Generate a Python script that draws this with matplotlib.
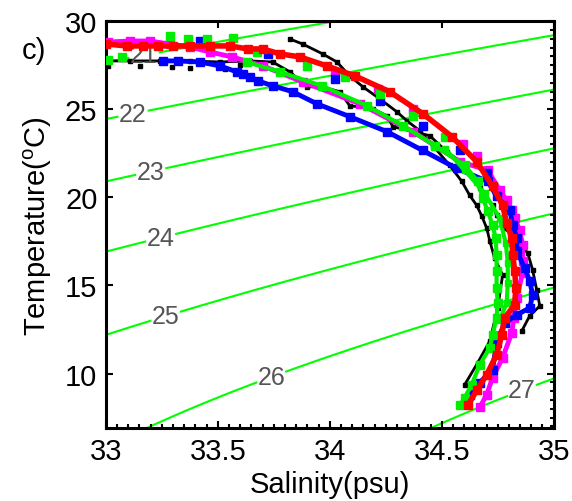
import numpy as np
import matplotlib.pyplot as plt
from matplotlib.ticker import MultipleLocator

plt.rcParams['font.family'] = ['Liberation Sans', 'DejaVu Sans']
plt.rcParams['mathtext.fontset'] = 'custom'
plt.rcParams['mathtext.rm'] = 'Liberation Sans'

# isopycnal levels (sigma-t) and where their labels sit
sigma_levels = [21, 22, 23, 24, 25, 26, 27]
label_pos = [(33.17, 28.1), (33.12, 24.85), (33.2, 21.5), (33.24, 17.95),
             (33.27, 13.15), (33.74, 9.75), (34.86, 9.0)]

# CTD casts: salinity (psu) and temperature (degC)
green_s = [33.629, 33.777, 33.964, 34.166, 34.326, 34.469, 34.603, 34.661,
           34.683, 34.706, 34.727, 34.741, 34.745, 34.745, 34.745, 34.750,
           34.745, 34.727, 34.715, 34.670, 34.634, 34.603, 34.581]
green_t = [27.68, 27.12, 26.33, 25.20, 24.07, 22.94, 21.81, 20.90,
           19.94, 19.21, 18.42, 17.68, 16.72, 15.82, 14.86, 14.01,
           13.16, 12.20, 11.47, 10.51, 9.38, 8.64, 8.19]
green2_s = [34.513, 34.603, 34.692, 34.759, 34.786, 34.795, 34.795, 34.790, 34.759]
green2_t = [22.77, 21.53, 20.23, 18.81, 17.40, 16.27, 15.14, 14.01, 13.05]
green_pts_s = [33.009, 33.072, 33.285, 33.366, 33.451, 33.567, 33.674, 33.897,
               34.067, 34.223, 34.371, 34.513]
green_pts_t = [27.80, 27.97, 29.15, 28.98, 28.98, 29.04, 28.25, 27.46,
               26.84, 25.88, 24.63, 23.45]

red_s = [33.000, 33.095, 33.166, 33.232, 33.299, 33.375, 33.464, 33.554,
         33.634, 33.701, 33.777, 33.866, 33.986, 34.112, 34.268, 34.415,
         34.545, 34.656, 34.727, 34.772, 34.790, 34.813, 34.817, 34.826,
         34.831, 34.826, 34.781, 34.768, 34.745, 34.701, 34.656, 34.616]
red_t = [28.70, 28.59, 28.59, 28.59, 28.59, 28.59, 28.59, 28.59,
         28.42, 28.42, 28.14, 27.97, 27.46, 26.89, 25.99, 24.75,
         23.45, 22.03, 20.62, 19.55, 18.53, 17.68, 16.72, 15.82,
         14.86, 13.90, 13.16, 12.20, 11.07, 9.94, 9.04, 8.19]

magenta_s = [33.009, 33.108, 33.196, 33.285, 33.375, 33.464, 33.563, 33.701,
             33.879, 34.134, 34.371, 34.581, 34.706, 34.759, 34.790, 34.813,
             34.826, 34.848, 34.861, 34.861, 34.861, 34.835, 34.822, 34.813,
             34.772, 34.727, 34.701, 34.670]
magenta_t = [28.81, 28.87, 28.87, 28.70, 28.53, 28.25, 27.97, 27.46,
             26.55, 25.31, 23.73, 22.03, 21.53, 20.40, 19.83, 19.27,
             18.81, 18.14, 17.29, 16.38, 15.71, 14.29, 13.16, 12.32,
             10.90, 9.77, 8.81, 8.08]
magenta_pts_s = [34.023, 34.214, 34.371, 34.594, 34.656]
magenta_pts_t = [27.12, 26.16, 25.03, 23.05, 22.37]

blue_s = [33.255, 33.321, 33.419, 33.509, 33.585, 33.643, 33.679, 33.745,
          33.835, 33.942, 34.089, 34.255, 34.415, 34.567, 34.706, 34.745,
          34.804, 34.817, 34.835, 34.835, 34.870, 34.893, 34.906, 34.893,
          34.835, 34.781, 34.745, 34.727, 34.670, 34.625]
blue_t = [27.74, 27.74, 27.68, 27.46, 27.12, 26.84, 26.61, 26.33,
          25.99, 25.31, 24.58, 23.73, 22.66, 21.64, 20.90, 20.06,
          19.27, 18.42, 17.68, 16.95, 15.99, 15.25, 14.46, 13.73,
          13.33, 12.88, 11.75, 10.23, 9.49, 8.81]
blue_pts_s = [33.724, 34.023, 34.223, 34.415, 34.581, 34.701, 33.419, 33.612]
blue_pts_t = [28.14, 26.72, 25.48, 24.07, 22.66, 21.36, 28.87, 27.01]

black_a_s = [33.822, 33.879, 33.968, 34.032, 34.089, 34.148, 34.223, 34.299,
             34.344, 34.401, 34.460, 34.536, 34.590, 34.625, 34.656, 34.679,
             34.701, 34.715, 34.736, 34.772, 34.750, 34.715, 34.661, 34.603]
black_a_t = [28.98, 28.70, 28.14, 27.68, 26.89, 26.27, 25.59, 24.86,
             24.35, 23.79, 22.94, 21.81, 20.90, 20.11, 19.55, 18.93,
             18.25, 17.51, 16.55, 15.59, 13.73, 11.86, 10.62, 9.38]
black_b_s = [33.000, 33.108, 33.241, 33.375, 33.509, 33.643, 33.745, 33.822,
             33.897, 33.968, 34.045, 34.089, 34.192, 34.255, 34.282, 34.446,
             34.522, 34.603, 34.670, 34.727, 34.745, 34.781, 34.826, 34.884,
             34.906, 34.924, 34.938, 34.893, 34.858]
black_b_t = [27.74, 27.74, 27.74, 27.74, 27.68, 27.74, 27.68, 27.12,
             26.27, 26.27, 25.99, 25.20, 25.03, 24.63, 24.01, 23.50,
             22.60, 21.64, 20.51, 19.55, 18.98, 18.25, 17.68, 16.84,
             15.88, 14.75, 13.84, 13.28, 12.43]
black_pts_s = [33.009, 33.152, 33.294, 33.375, 33.531, 33.599]
black_pts_t = [27.46, 27.46, 27.40, 27.34, 27.29, 27.51]


def sigma_t(s, t):
    # UNESCO 1981 density at the sea surface, minus 1000
    rho_w = (999.842594 + 6.793952e-2 * t - 9.095290e-3 * t**2
             + 1.001685e-4 * t**3 - 1.120083e-6 * t**4 + 6.536332e-9 * t**5)
    a = (8.24493e-1 - 4.0899e-3 * t + 7.6438e-5 * t**2
         - 8.2467e-7 * t**3 + 5.3875e-9 * t**4)
    b = -5.72466e-3 + 1.0227e-4 * t - 1.6546e-6 * t**2
    c = 4.8314e-4
    return rho_w + a * s + b * s**1.5 + c * s**2 - 1000.0


fig = plt.figure(figsize=(5.72, 5.02), dpi=100)
ax = fig.add_axes([0.185, 0.145, 0.783, 0.811])

sg, tg = np.meshgrid(np.linspace(33, 35, 300), np.linspace(6.9, 30, 300))
cs = ax.contour(sg, tg, sigma_t(sg, tg), levels=sigma_levels,
                colors='#00ff00', linewidths=1.5, zorder=1)
labels = ax.clabel(cs, fmt='%d', manual=label_pos, fontsize=18,
                   colors='#555555', inline=True, inline_spacing=1)
for lab in labels:
    lab.set_rotation(0)

# profiles, drawn as lines of square markers
ax.plot(black_b_s, black_b_t, '-s', color='black', lw=2, ms=3.5, zorder=2)
ax.plot(black_a_s, black_a_t, '-s', color='black', lw=2, ms=3.5, zorder=2)
ax.plot(black_pts_s, black_pts_t, 's', color='black', ms=3.5, zorder=2)
ax.plot(magenta_s, magenta_t, '-s', color='magenta', lw=3.5, ms=5.5, zorder=3)
ax.plot(magenta_pts_s, magenta_pts_t, 's', color='magenta', ms=5.5, zorder=3)
ax.plot(blue_s, blue_t, '-s', color='blue', lw=3.5, ms=5.5, zorder=4)
ax.plot(blue_pts_s, blue_pts_t, 's', color='blue', ms=5.5, zorder=4)
ax.plot(green_s, green_t, '-s', color='#00ee00', lw=3, ms=5.5, zorder=5)
ax.plot(green2_s, green2_t, '-s', color='#00ee00', lw=3, ms=4.5, zorder=5)
ax.plot(green_pts_s, green_pts_t, 's', color='#00ee00', ms=5.5, zorder=5)
ax.plot(red_s, red_t, '-s', color='red', lw=4, ms=5.5, zorder=6)

ax.set_xlim(33, 35)
ax.set_ylim(6.9, 30)
ax.set_xticks([33, 33.5, 34, 34.5, 35])
ax.set_xticklabels(['33', '33.5', '34', '34.5', '35'])
ax.set_yticks([10, 15, 20, 25, 30])
ax.xaxis.set_minor_locator(MultipleLocator(0.05))
ax.yaxis.set_minor_locator(MultipleLocator(0.5))
ax.tick_params(which='major', direction='in', length=5, width=1.5,
               top=True, right=True, labelsize=21, pad=6)
ax.tick_params(which='minor', direction='in', length=3, width=1.5,
               top=False, left=False, right=True, bottom=True)
for sp in ax.spines.values():
    sp.set_linewidth(2.2)

ax.set_xlabel('Salinity(psu)', fontsize=21, labelpad=4)
ax.set_ylabel(r'Temperature($^{\rm o}$C)', fontsize=21, labelpad=8)
fig.text(0.06, 0.898, 'c)', fontsize=21, ha='center', va='center')

fig.savefig('out.png', dpi=100)
